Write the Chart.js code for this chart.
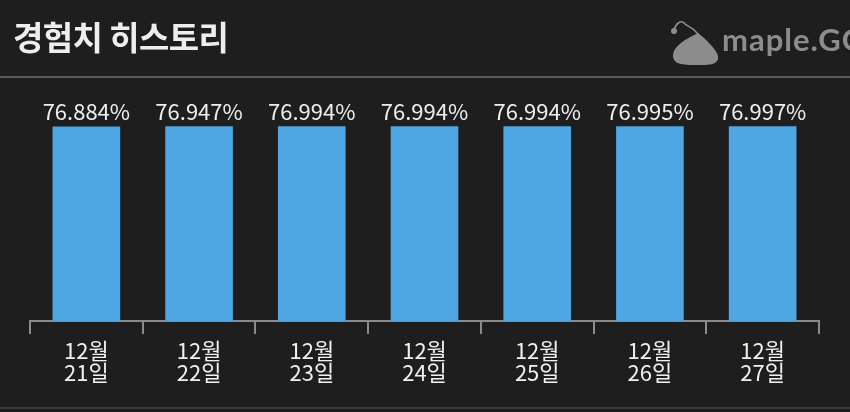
<!DOCTYPE html>
<html>
<head>
<meta charset="utf-8">
<script src="https://cdn.jsdelivr.net/npm/chart.js@4.4.1/dist/chart.umd.min.js"></script>
<style>
  html, body { margin: 0; padding: 0; background: #1e1e1e; overflow: hidden; }
  #wrap { position: relative; width: 850px; height: 412px; background: #1e1e1e; }
  #title { position: absolute; left: 13px; top: 12px; color: #eeeeee;
    font: bold 33px "Noto Sans CJK KR", sans-serif; letter-spacing: -0.6px; }
  #logo { position: absolute; left: 668px; top: 17px; }
  #logoText { position: absolute; left: 722px; top: 20px; color: #8c8c8c;
    font: bold 31px Lato, sans-serif; letter-spacing: 1px; white-space: nowrap; }
  .rule { position: absolute; left: 0; width: 850px; }
  #top-rule { top: 76px; height: 2px; background: #5a5a5a; }
  #bot-rule { top: 407px; height: 2px; background: #3e3e3e; }
  #c { position: absolute; left: 0; top: 0; }
</style>
</head>
<body>
<div id="wrap">
  <canvas id="c" width="850" height="412"></canvas>
  <div id="title">경험치 히스토리</div>
  <svg id="logo" viewBox="0 0 54 54" width="54" height="54">
    <path d="M6 13 C 8 6, 13 3, 16 6 C 19 10, 24 9, 30 17" fill="none" stroke="#8c8c8c" stroke-width="1.6"/>
    <circle cx="6" cy="14" r="3" fill="#8c8c8c"/>
    <path d="M30 16 C 40 24, 52 36, 50 42 C 48 49, 38 48, 26 48 C 12 48, 5 46, 5 39 C 5 29, 18 22, 30 16 Z" fill="#8c8c8c"/>
  </svg>
  <div id="logoText">maple.GG</div>
  <div class="rule" id="top-rule"></div>
  <div class="rule" id="bot-rule"></div>
</div>
<script>
const dayLabels = [['12월', '21일'], ['12월', '22일'], ['12월', '23일'], ['12월', '24일'],
                   ['12월', '25일'], ['12월', '26일'], ['12월', '27일']];
const expValues = [76.884, 76.947, 76.994, 76.994, 76.994, 76.995, 76.997];

// value text on top of every bar
const barValueLabels = {
    id: 'barValueLabels',
    afterDatasetsDraw(chart) {
        const ctx = chart.ctx;
        const meta = chart.getDatasetMeta(0);
        ctx.save();
        ctx.fillStyle = '#eeeeee';
        ctx.font = '22px "Noto Sans CJK KR", sans-serif';
        ctx.textAlign = 'center';
        ctx.textBaseline = 'alphabetic';
        meta.data.forEach((bar, i) => {
            ctx.fillText(expValues[i].toFixed(3) + '%', bar.x, bar.y - 6);
        });
        ctx.restore();
    }
};

new Chart(document.getElementById('c'), {
    type: 'bar',
    data: {
        labels: dayLabels,
        datasets: [{
            data: expValues,
            backgroundColor: '#4ea6e3',
            borderWidth: 0,
            categoryPercentage: 0.6,
            barPercentage: 1.0
        }]
    },
    options: {
        responsive: false,
        animation: false,
        layout: { padding: { top: 68, left: 30, right: 31, bottom: 22 } },
        plugins: { legend: { display: false }, tooltip: { enabled: false } },
        scales: {
            x: {
                offset: true,
                grid: {
                    offset: true,
                    drawOnChartArea: false,
                    drawTicks: true,
                    tickLength: 13,
                    color: '#8a8a8a',
                    lineWidth: 2
                },
                border: { display: true, color: '#8a8a8a', width: 2 },
                ticks: {
                    color: '#f0f0f0',
                    padding: 6,
                    maxRotation: 0,
                    autoSkip: false,
                    font: { family: '"Noto Sans CJK KR", sans-serif', size: 22, lineHeight: 1.0 }
                }
            },
            y: { display: false, min: 0, max: 100 }
        }
    },
    plugins: [barValueLabels]
});
</script>
</body>
</html>
